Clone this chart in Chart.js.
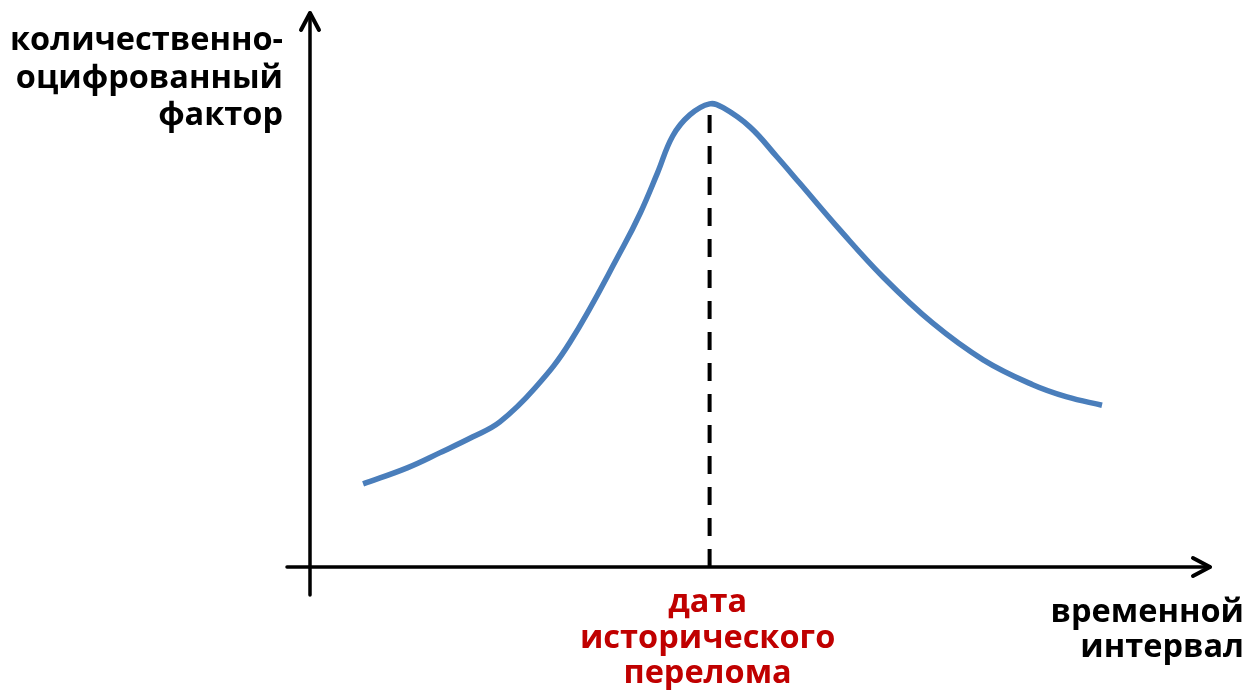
<!DOCTYPE html>
<html>
<head>
<meta charset="utf-8">
<script src="https://cdn.jsdelivr.net/npm/chart.js@4.4.1/dist/chart.umd.min.js"></script>
<style>
  html, body { margin: 0; padding: 0; background: #fff; }
  #wrap { width: 1252px; height: 690px; }
</style>
</head>
<body>
<div id="wrap"><canvas id="curveChart"></canvas></div>
<script>
// curve (time on x, factor on y, both 0..100)
const timeValues = [5.9, 10.8, 14.4, 18.1, 21.1, 25.0, 28.9, 34.8, 36.7, 38.6, 40.3, 42.2, 44.4,
                    45.9, 48.9, 51.9, 54.4, 58.9, 63.7, 69.2, 74.8, 80.3, 84.1, 88.0];
const factorValues = [15.0, 17.9, 20.6, 23.5, 26.2, 32.3, 40.6, 57.8, 63.9, 71.1, 77.8, 81.6, 83.6,
                      82.9, 79.4, 74.0, 69.3, 60.8, 52.3, 44.0, 37.4, 32.9, 30.7, 29.2];

const yLabelLines = ['количественно-', 'оцифрованный', 'фактор'];
const xLabelLines = ['временной', 'интервал'];
const markLabelLines = ['дата', 'исторического', 'перелома'];

const points = timeValues.map((t, i) => ({ x: t, y: factorValues[i] }));
const peakIndex = factorValues.indexOf(Math.max(...factorValues));

// axes with arrows, dashed marker at the peak and the texts
const sketchPlugin = {
    id: 'sketch',
    afterDraw(chart) {
        const ctx = chart.ctx;
        const area = chart.chartArea;
        const xs = chart.scales.x;
        const ys = chart.scales.y;
        ctx.save();

        // dashed line from the time axis up to the peak
        const px = xs.getPixelForValue(timeValues[peakIndex]);
        const py = ys.getPixelForValue(factorValues[peakIndex]);
        ctx.strokeStyle = '#000';
        ctx.lineWidth = 4;
        ctx.setLineDash([18, 13]);
        ctx.beginPath();
        ctx.moveTo(px, area.bottom);
        ctx.lineTo(px, py);
        ctx.stroke();
        ctx.setLineDash([]);

        // axes
        ctx.lineWidth = 3.5;
        ctx.lineCap = 'round';
        ctx.lineJoin = 'round';
        ctx.beginPath();
        ctx.moveTo(area.left, area.bottom + 28);
        ctx.lineTo(area.left, area.top);
        ctx.moveTo(area.left - 23, area.bottom);
        ctx.lineTo(area.right, area.bottom);
        ctx.stroke();

        // arrow heads
        ctx.lineWidth = 4;
        ctx.beginPath();
        ctx.moveTo(area.left - 9, area.top + 17);
        ctx.lineTo(area.left, area.top);
        ctx.lineTo(area.left + 9, area.top + 17);
        ctx.moveTo(area.right - 17, area.bottom - 9);
        ctx.lineTo(area.right, area.bottom);
        ctx.lineTo(area.right - 17, area.bottom + 9);
        ctx.stroke();

        // texts
        ctx.font = 'bold 32.5px "Open Sans", sans-serif';
        ctx.textBaseline = 'alphabetic';
        ctx.fillStyle = '#000';
        ctx.textAlign = 'right';
        yLabelLines.forEach((s, i) => ctx.fillText(s, area.left - 27, 50 + i * 37.5));
        xLabelLines.forEach((s, i) => ctx.fillText(s, 1244, 622 + i * 35));

        ctx.fillStyle = '#C00000';
        ctx.textAlign = 'center';
        markLabelLines.forEach((s, i) => ctx.fillText(s, px - 2, 612 + i * 35.5));

        ctx.restore();
    }
};

const ctx = document.getElementById('curveChart').getContext('2d');
new Chart(ctx, {
    type: 'line',
    data: {
        datasets: [{
            data: points,
            borderColor: '#4A7EBB',
            borderWidth: 5.5,
            pointRadius: 0,
            tension: 0.4,
            fill: false
        }]
    },
    options: {
        responsive: true,
        maintainAspectRatio: false,
        animation: false,
        layout: {
            padding: { left: 310, right: 42, top: 13, bottom: 123 }
        },
        scales: {
            x: { type: 'linear', min: 0, max: 100, display: false },
            y: { min: 0, max: 100, display: false }
        },
        plugins: {
            legend: { display: false },
            tooltip: { enabled: false }
        }
    },
    plugins: [sketchPlugin]
});
</script>
</body>
</html>
